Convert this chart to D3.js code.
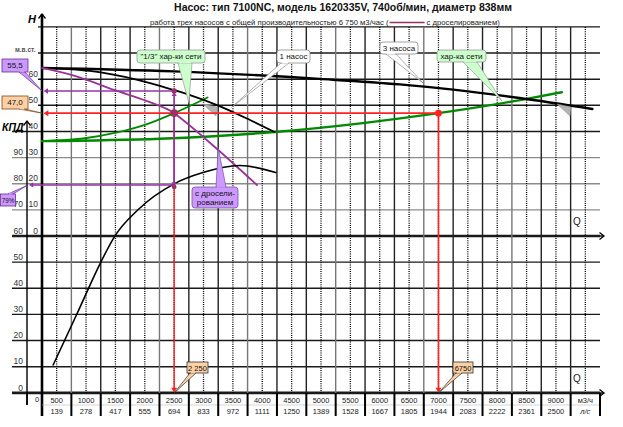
<!DOCTYPE html>
<html>
<head>
<meta charset="utf-8">
<script src="https://cdnjs.cloudflare.com/ajax/libs/d3/7.8.5/d3.min.js"></script>
<style>
  body { margin: 0; background: #fff; }
  svg { display: block; font-family: "Liberation Sans", Arial, sans-serif; }
</style>
</head>
<body>
<svg id="chart" width="623" height="427"></svg>
<script>
// ---- data ----
const flowTicks = [500, 1000, 1500, 2000, 2500, 3000, 3500, 4000, 4500, 5000, 5500, 6000, 6500, 7000, 7500, 8000, 8500, 9000];
const lpsTicks = ["139", "278", "417", "555", "694", "833", "972", "1111", "1250", "1389", "1528", "1667", "1805", "1944", "2083", "2222", "2361", "2500"];
const headTicks = [60, 50, 40, 30, 20, 10, 0];
const effTicks = [90, 80, 70, 60, 50, 40, 30, 20, 10, 0];

// one pump, H(Q)
const pump1Q = [0, 1000, 1840, 2250, 2520, 2980, 3540, 3960];
const pump1H = [64.3, 62.6, 58.5, 55.8, 53.9, 50.1, 44.4, 39.8];
// three pumps in parallel
const pump3Q = [0, 2250, 4730, 6090, 7000, 8130, 9370];
const pump3H = [64.3, 63.0, 60.1, 58.0, 56.0, 52.8, 48.6];
// one pump with throttling
const throttQ = [0, 600, 1240, 1800, 2250, 2400, 3000, 3660];
const throttH = [64.3, 61.0, 55.8, 51.5, 47.0, 44.4, 32.9, 19.5];
// network characteristic
const netQ = [0, 2000, 3960, 5500, 6750, 8140, 8850];
const netH = [36.3, 37.2, 39.8, 43.3, 47.0, 52.0, 55.0];
// 1/3 of network characteristic
const thirdQ = [0, 700, 1280, 1800, 2250, 2820];
const thirdH = [36.3, 37.3, 39.6, 42.9, 47.0, 53.0];
// efficiency, %
const effQ = [190, 600, 1000, 1240, 1630, 2250, 2740, 3370, 3980];
const effV = [10.7, 30.5, 50, 60, 70, 80, 84.3, 87, 84.3];

const dutyQ = 6750, dutyH = 47.0;
const oneQ = 2250, oneH = 55.5, oneEff = 79;

// ---- scales ----
const svg = d3.select("#chart");
const x = d3.scaleLinear().domain([0, 9500]).range([42, 600]);
const yH = d3.scaleLinear().domain([0, 80]).range([236, 26.9]);
const yK = d3.scaleLinear().domain([0, 90]).range([393, 157.7]);

const plotTop = yH(80), plotBottom = yK(0), rowMid = 405, tableEnd = 416;

// ---- grid ----
const grid = svg.append("g");
d3.range(-60, 81, 10).forEach(h => {
  const y = yH(h);
  const thick = (h === 0 || h === -60);
  const gray = (h === 30 || h === 20 || h === 10);
  grid.append("line")
    .attr("x1", h >= 50 ? 38 : 12).attr("x2", 600)
    .attr("y1", y).attr("y2", y)
    .attr("stroke", gray ? "#8c8c8c" : "#1a1a1a")
    .attr("stroke-width", thick ? 2.6 : 1.4);
});
d3.range(500, 9001, 500).forEach((q, i) => {
  grid.append("line")
    .attr("x1", x(q)).attr("x2", x(q))
    .attr("y1", plotTop).attr("y2", plotBottom)
    .attr("stroke", (i % 3 === 0) ? "#777" : "#222")
    .attr("stroke-width", 1.4);
});
d3.range(250, 9500, 500).forEach(q => {
  grid.append("line")
    .attr("x1", x(q)).attr("x2", x(q))
    .attr("y1", plotTop).attr("y2", plotBottom)
    .attr("stroke", "#000")
    .attr("stroke-width", 1.3)
    .attr("stroke-dasharray", "1,1.2");
});

// ---- axes ----
function caret(g, cx, cy, dir) {
  const s = 3.5;
  const p = dir === "up"
    ? [[cx - s, cy + s + 1], [cx, cy], [cx + s, cy + s + 1]]
    : [[cx - s - 1, cy - s], [cx, cy], [cx - s - 1, cy + s]];
  g.append("path").attr("d", d3.line()(p)).attr("fill", "none")
    .attr("stroke", "#000").attr("stroke-width", 1.3);
}
const ax = svg.append("g");
ax.append("line").attr("x1", x(0)).attr("x2", x(0)).attr("y1", 14).attr("y2", tableEnd)
  .attr("stroke", "#000").attr("stroke-width", 2.6);
caret(ax, x(0), 14, "up");
ax.append("line").attr("x1", 27).attr("x2", 27).attr("y1", 121).attr("y2", rowMid)
  .attr("stroke", "#000").attr("stroke-width", 1.4);
caret(ax, 27, 121, "up");
[yH(0), plotBottom].forEach(y => {
  ax.append("line").attr("x1", 600).attr("x2", 603).attr("y1", y).attr("y2", y)
    .attr("stroke", "#000").attr("stroke-width", 1.4);
  caret(ax, 604, y, "right");
});

ax.append("text").attr("x", 28).attr("y", 23).text("H")
  .attr("font-size", 11).attr("font-weight", "bold").attr("font-style", "italic");
ax.append("text").attr("x", 2).attr("y", 131).text("КПД")
  .attr("font-size", 10.5).attr("font-weight", "bold").attr("font-style", "italic");
ax.append("text").attr("x", 15).attr("y", 52).text("м.в.ст.")
  .attr("font-size", 6.5).attr("font-weight", "bold").attr("fill", "#555");
ax.selectAll(".ht").data(headTicks).enter().append("text")
  .attr("x", 38).attr("y", d => yH(d) - 2.5).attr("text-anchor", "end")
  .attr("font-size", 8.5).attr("fill", "#333").text(d => d);
ax.selectAll(".kt").data(effTicks).enter().append("text")
  .attr("x", 23).attr("y", d => yK(d) - 2.5).attr("text-anchor", "end")
  .attr("font-size", 8.5).attr("fill", "#333").text(d => d);
[yH(0), plotBottom].forEach(y => {
  ax.append("text").attr("x", 573).attr("y", y - 11).text("Q")
    .attr("font-size", 10).attr("fill", "#222");
});

// ---- table under the x axis ----
const tb = svg.append("g").attr("font-size", 7.5).attr("text-anchor", "middle").attr("fill", "#222");
const cells = flowTicks.map((q, i) => ({ x0: x(q - 500), x1: x(q), top: String(q), bot: lpsTicks[i] }));
cells.push({ x0: x(9000), x1: x(9500), top: "м3/ч", bot: "л/с" });
tb.append("line").attr("x1", 27).attr("x2", 27).attr("y1", plotBottom).attr("y2", rowMid)
  .attr("stroke", "#000").attr("stroke-width", 1.6);
tb.append("text").attr("x", 37).attr("y", 402).text("0");
tb.append("line").attr("x1", x(0)).attr("x2", x(9500)).attr("y1", rowMid).attr("y2", rowMid)
  .attr("stroke", "#bbb").attr("stroke-width", 0.6);
cells.forEach(c => {
  tb.append("line").attr("x1", c.x1).attr("x2", c.x1).attr("y1", plotBottom).attr("y2", tableEnd)
    .attr("stroke", "#000").attr("stroke-width", 2);
  tb.append("text").attr("x", (c.x0 + c.x1) / 2).attr("y", 402.5).text(c.top);
  tb.append("text").attr("x", (c.x0 + c.x1) / 2).attr("y", 413.5).text(c.bot)
    .attr("font-style", c.bot === "л/с" ? "italic" : "normal");
});

// ---- curves ----
const lineH = d3.line().x(d => x(d[0])).y(d => yH(d[1])).curve(d3.curveMonotoneX);
const lineK = d3.line().x(d => x(d[0])).y(d => yK(d[1])).curve(d3.curveMonotoneX);
const zip = (a, b) => a.map((v, i) => [v, b[i]]);
const curves = svg.append("g").attr("fill", "none").attr("stroke-linecap", "round");
curves.append("path").attr("d", lineH(zip(netQ, netH))).attr("stroke", "#008a00").attr("stroke-width", 2.4);
curves.append("path").attr("d", lineH(zip(thirdQ, thirdH))).attr("stroke", "#008a00").attr("stroke-width", 1.8);
curves.append("path").attr("d", lineH(zip(pump1Q, pump1H))).attr("stroke", "#000").attr("stroke-width", 1.8);
curves.append("path").attr("d", lineH(zip(pump3Q, pump3H))).attr("stroke", "#000").attr("stroke-width", 2.4);
curves.append("path").attr("d", lineH(zip(throttQ, throttH))).attr("stroke", "#993399").attr("stroke-width", 1.8);
curves.append("path").attr("d", lineK(zip(effQ, effV))).attr("stroke", "#000").attr("stroke-width", 1.6);

// small gray shadows left by callouts
[[203, 104, 217, 107, 216, 116], [557, 104, 571, 107, 570, 116]].forEach(p => {
  svg.append("polygon").attr("points", `${p[0]},${p[1]} ${p[2]},${p[3]} ${p[4]},${p[5]}`)
    .attr("fill", "#b3b3b3").attr("stroke", "#888").attr("stroke-width", 0.5);
});

// ---- reading lines ----
function tri(g, tx, ty, dir, color, s) {
  let p;
  if (dir === "left") p = [[tx, ty], [tx + s * 1.6, ty - s], [tx + s * 1.6, ty + s]];
  if (dir === "down") p = [[tx, ty], [tx - s, ty - s * 1.6], [tx + s, ty - s * 1.6]];
  if (dir === "up") p = [[tx, ty], [tx - s, ty + s * 1.6], [tx + s, ty + s * 1.6]];
  g.append("polygon").attr("points", p.map(d => d.join(",")).join(" ")).attr("fill", color);
}
const red = "#ff2020", purple = "#9933aa";
const rl = svg.append("g");
// red: operating point of three pumps
rl.append("line").attr("x1", x(dutyQ)).attr("x2", x(0) + 4).attr("y1", yH(dutyH)).attr("y2", yH(dutyH))
  .attr("stroke", red).attr("stroke-width", 1.6);
tri(rl, x(0) + 1.5, yH(dutyH), "left", red, 3);
rl.append("line").attr("x1", x(dutyQ)).attr("x2", x(dutyQ)).attr("y1", yH(dutyH)).attr("y2", plotBottom - 4)
  .attr("stroke", red).attr("stroke-width", 1.6);
tri(rl, x(dutyQ), plotBottom - 0.5, "down", red, 3);
rl.append("line").attr("x1", x(oneQ)).attr("x2", x(oneQ)).attr("y1", yH(dutyH)).attr("y2", plotBottom - 4)
  .attr("stroke", red).attr("stroke-width", 1.4);
tri(rl, x(oneQ), plotBottom - 0.5, "down", red, 3);
rl.append("circle").attr("cx", x(dutyQ)).attr("cy", yH(dutyH)).attr("r", 3.4).attr("fill", red);

// purple: one pump with throttling
rl.append("line").attr("x1", x(oneQ)).attr("x2", x(0) + 4).attr("y1", yH(oneH)).attr("y2", yH(oneH))
  .attr("stroke", purple).attr("stroke-width", 1.6);
tri(rl, x(0) + 1.5, yH(oneH), "left", purple, 2.8);
rl.append("line").attr("x1", x(oneQ)).attr("x2", x(oneQ)).attr("y1", yH(dutyH)).attr("y2", yH(oneH) + 4)
  .attr("stroke", purple).attr("stroke-width", 1.6);
tri(rl, x(oneQ), yH(oneH) + 1, "up", purple, 2.6);
rl.append("line").attr("x1", x(oneQ)).attr("x2", x(oneQ)).attr("y1", yH(dutyH)).attr("y2", yK(oneEff) - 3)
  .attr("stroke", purple).attr("stroke-width", 1.6);
tri(rl, x(oneQ), yK(oneEff), "down", purple, 2.6);
rl.append("line").attr("x1", x(oneQ)).attr("x2", 32).attr("y1", yK(oneEff) - 1.5).attr("y2", yK(oneEff) - 1.5)
  .attr("stroke", purple).attr("stroke-width", 1.6);
tri(rl, 29, yK(oneEff) - 1.5, "left", purple, 2.6);
rl.append("circle").attr("cx", x(oneQ)).attr("cy", yH(oneH)).attr("r", 2.6).attr("fill", "#993366");
rl.append("circle").attr("cx", x(oneQ)).attr("cy", yH(dutyH)).attr("r", 3.8).attr("fill", "#993366");
rl.append("circle").attr("cx", x(oneQ)).attr("cy", yK(oneEff) + 0.5).attr("r", 2.4).attr("fill", "#993366");

// ---- callouts ----
function callout(o) {
  const g = svg.append("g");
  g.append("polygon")
    .attr("points", [o.base[0], o.tip, o.base[1]].map(d => d.join(",")).join(" "))
    .attr("fill", o.fill).attr("stroke", o.stroke).attr("stroke-width", 0.7);
  g.append("rect").attr("x", o.x).attr("y", o.y).attr("width", o.w).attr("height", o.h)
    .attr("rx", o.rx || 0).attr("fill", o.fill).attr("stroke", o.stroke).attr("stroke-width", 0.8);
  g.append("polygon")
    .attr("points", [[o.base[0][0] + 0.8, o.base[0][1] - 1.5], [o.base[1][0] - 0.8, o.base[1][1] - 1.5],
      [o.base[1][0] - 0.8, o.base[1][1] + 0.5], [o.base[0][0] + 0.8, o.base[0][1] + 0.5]].map(d => d.join(",")).join(" "))
    .attr("fill", o.fill);
  o.text.forEach((t, i) => {
    g.append("text").attr("x", o.x + o.w / 2).attr("y", o.y + (o.ty || 9.3) + i * 9)
      .attr("text-anchor", "middle").attr("font-size", o.fs || 8).attr("fill", "#111").text(t);
  });
}
const lilac = "#cc99ff", peach = "#fcd0a4", mint = "#ccffcc";
callout({ x: 2, y: 59, w: 26, h: 13, fill: lilac, stroke: "#6a2c91", text: ["55,5"], tip: [x(0), yH(oneH)], base: [[19, 72], [25, 72]] });
callout({ x: 2, y: 96, w: 26, h: 13, fill: peach, stroke: "#7a4a1e", text: ["47,0"], tip: [x(0), yH(dutyH)], base: [[19, 109], [25, 109]] });
callout({ x: 0.5, y: 194, w: 15, h: 12, fill: lilac, stroke: "#6a2c91", text: [oneEff + "%"], fs: 6.3, ty: 8.6, tip: [27, yK(oneEff) - 1], base: [[8, 194], [13, 194]] });
callout({ x: 187, y: 362, w: 21, h: 11, fill: peach, stroke: "#333", text: ["2 250"], fs: 7.5, tip: [x(oneQ), plotBottom], base: [[190, 373], [196, 373]] });
callout({ x: 453, y: 362, w: 20, h: 11, fill: peach, stroke: "#333", text: ["6750"], fs: 7.5, tip: [x(dutyQ), plotBottom], base: [[456, 373], [462, 373]] });
callout({ x: 137, y: 50, w: 68, h: 13, rx: 3, fill: mint, stroke: "#999", text: ["\"1/3\" хар-ки сети"], tip: [x(2500), yH(51)], base: [[178, 63], [192, 63]] });
callout({ x: 277, y: 50, w: 33, h: 13, rx: 3, fill: "#fff", stroke: "#8c8c8c", text: ["1 насос"], tip: [x(3230), yH(49.3)], base: [[281, 63], [289, 63]] });
callout({ x: 380, y: 42, w: 38, h: 12, rx: 3, fill: "#fff", stroke: "#8c8c8c", text: ["3 насоса"], tip: [x(6490), yH(58.5)], base: [[386, 54], [396, 54]] });
callout({ x: 437, y: 50, w: 49, h: 12, rx: 3, fill: mint, stroke: "#999", text: ["хар-ка сети"], tip: [x(7830), yH(51.6)], base: [[463, 62], [477, 62]] });
callout({ x: 192, y: 187, w: 46, h: 21, rx: 3, fill: lilac, stroke: "#7a4fa0", text: ["с дросели-", "рованием"], tip: [x(3000), yH(33.7)], base: [[216, 187], [226, 187]] });

// ---- titles ----
svg.append("text").attr("x", 343).attr("y", 11).attr("text-anchor", "middle")
  .attr("font-size", 10.5).attr("font-weight", "bold").attr("fill", "#111")
  .text("Насос: тип 7100NC, модель 1620335V, 740об/мин, диаметр 838мм");
const sub1 = svg.append("text").attr("x", 150).attr("y", 25).attr("font-size", 7.7).attr("fill", "#222")
  .text("работа трех насосов с общей производительностью 6 750 м3/час (");
const w1 = sub1.node().getComputedTextLength();
svg.append("line").attr("x1", 150 + w1 + 1).attr("x2", 150 + w1 + 36).attr("y1", 22.5).attr("y2", 22.5)
  .attr("stroke", "#993366").attr("stroke-width", 1.5);
svg.append("text").attr("x", 150 + w1 + 38).attr("y", 25).attr("font-size", 7.7).attr("fill", "#222")
  .text("с дроселированием)");
</script>
</body>
</html>
